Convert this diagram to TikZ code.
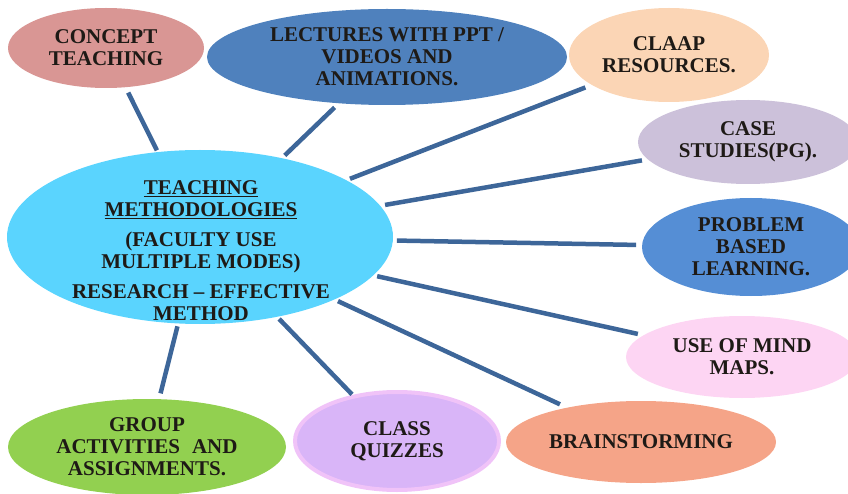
\documentclass[tikz,border=0pt]{standalone}
\usepackage{fontspec}
\setmainfont{Liberation Serif}
\usetikzlibrary{shapes.geometric}
\definecolor{txt}{HTML}{1E1A16}
\definecolor{link}{HTML}{3D6699}
\definecolor{cCentral}{HTML}{5AD4FE}
\definecolor{cConcept}{HTML}{D99694}
\definecolor{cLect}{HTML}{4F81BD}
\definecolor{cClaap}{HTML}{FBD5B5}
\definecolor{cCase}{HTML}{CCC1DA}
\definecolor{cProb}{HTML}{558ED5}
\definecolor{cMind}{HTML}{FDD5F3}
\definecolor{cBrain}{HTML}{F5A488}
\definecolor{cQuiz}{HTML}{D9B5F8}
\definecolor{cQuizB}{HTML}{F0C3F8}
\definecolor{cGroup}{HTML}{92D050}
\begin{document}
\begin{tikzpicture}[x=1pt,y=-1pt,
  bubble/.style={ellipse, inner sep=0pt, outer sep=0pt, draw=none, text=txt, align=center,
    font=\fontsize{21}{22}\selectfont\bfseries},
  linktxt/.style={inner sep=0pt, outer sep=0pt, text=txt, align=center,
    font=\fontsize{21}{22}\selectfont\bfseries},
  spoke/.style={draw=link, line width=4.5pt}]
\useasboundingbox (0,0) rectangle (848,494);
\clip (0,0) rectangle (848,494);

\node[bubble, fill=cCentral, minimum width=386pt, minimum height=174pt] (central) at (200,237) {};
\node[linktxt] (centraltext) at (201,251) {\underline{TEACHING}\\\underline{METHODOLOGIES}\\[8pt](FACULTY USE\\MULTIPLE MODES)\\[8pt]RESEARCH -- EFFECTIVE\\METHOD};

\node[bubble, fill=cConcept, minimum width=196pt, minimum height=80pt] (concept) at (106,48) {CONCEPT\\TEACHING};
\node[bubble, fill=cLect, minimum width=360pt, minimum height=96pt] (lect) at (387,57) {LECTURES WITH PPT /\\VIDEOS AND\\ANIMATIONS.};
\node[bubble, fill=cClaap, minimum width=200pt, minimum height=94pt] (claap) at (669,55) {CLAAP\\RESOURCES.};
\node[bubble, fill=cCase, minimum width=220pt, minimum height=84pt] (case) at (748,142) {CASE\\STUDIES(PG).};
\node[bubble, fill=cProb, minimum width=218pt, minimum height=98pt] (prob) at (751,247) {PROBLEM\\BASED\\LEARNING.};
\node[bubble, fill=cMind, minimum width=232pt, minimum height=82pt] (mind) at (742,357) {USE OF MIND\\MAPS.};
\node[bubble, fill=cBrain, minimum width=270pt, minimum height=82pt] (brain) at (641,442) {BRAINSTORMING};
\node[bubble, fill=cQuiz, draw=cQuizB, line width=4pt, minimum width=204pt, minimum height=98pt] (quiz) at (397,441) {CLASS\\QUIZZES};
\node[bubble, fill=cGroup, minimum width=278pt, minimum height=96pt] (group) at (147,447) {GROUP\\ACTIVITIES\hspace{12pt}AND\\ASSIGNMENTS.};

\draw[spoke, shorten <=2pt, shorten >=6pt] (central) -- (concept);
\draw[spoke, shorten <=4pt, shorten >=6pt] (central) -- (lect);
\draw[spoke, shorten <=4pt, shorten >=7pt] (central) -- (claap);
\draw[spoke, shorten <=5pt, shorten >=6pt] (central) -- (case);
\draw[spoke, shorten <=4pt, shorten >=6pt] (central) -- (prob);
\draw[spoke, shorten <=4pt, shorten >=6pt] (central) -- (mind);
\draw[spoke, shorten <=4pt, shorten >=8pt] (central) -- (brain);
\draw[spoke, shorten <=3pt, shorten >=3pt] (central) -- (quiz);
\draw[spoke, shorten <=3pt, shorten >=6pt] (central) -- (group);
\end{tikzpicture}
\end{document}
